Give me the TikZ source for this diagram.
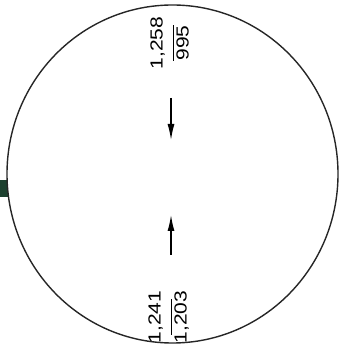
\documentclass[tikz,border=0pt]{standalone}
\usepackage{fontspec}
\setmainfont{Liberation Sans}
\usetikzlibrary{arrows.meta}
\definecolor{tabgreen}{RGB}{28,64,46}
\tikzset{
  reading/.style={rotate=90, xscale=1.2, inner sep=0pt, font=\fontsize{17.5}{18}\selectfont},
  flow/.style={line width=1.3pt, -{Latex[length=16pt,width=7pt]}}
}
\newcommand{\ratio}[2]{\begin{tabular}{@{}c@{}}#1\\[-7pt]\rule{30pt}{1pt}\\[-3pt]#2\end{tabular}}
\begin{document}
\begin{tikzpicture}[x=1pt,y=1pt]
\useasboundingbox (0,0) rectangle (345,350);
% dark tab on the left rim
\fill[tabgreen] (0,153) rectangle (8,170);
\draw[line width=1.4pt, black!85] (172.5,176) ellipse [x radius=165.5, y radius=169];
% readings
\node[reading] (top) at (172,307) {\ratio{1,258}{995}};
\node[reading] (bot) at (170,33) {\ratio{1,241}{1,203}};
% arrows
\coordinate (a1) at (171,252);
\coordinate (a2) at (171,210);
\coordinate (b1) at (171,95);
\coordinate (b2) at (171,135);
\draw[flow] (a1) -- (a2);
\draw[flow] (b1) -- (b2);
\end{tikzpicture}
\end{document}
